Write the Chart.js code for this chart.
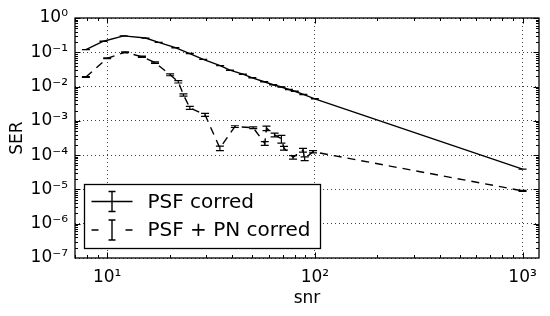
<!DOCTYPE html>
<html>
<head>
<meta charset="utf-8">
<script src="https://cdn.jsdelivr.net/npm/chart.js@4.4.1/dist/chart.umd.min.js"></script>
<style>
  html, body { margin: 0; padding: 0; background: #fff; }
  #wrap { width: 550px; height: 316px; }
</style>
</head>
<body>
<div id="wrap"><canvas id="chart"></canvas></div>
<script>
// series 1: PSF corred
const snrPsf = [7.9, 9.6, 12, 15.3, 17.7, 21.3, 25, 29, 35, 39, 45, 50, 57, 63, 69, 75, 80, 88, 100, 1000];
const serPsf = [0.12, 0.21, 0.30, 0.26, 0.195, 0.136, 0.092, 0.062, 0.041, 0.030, 0.023, 0.018, 0.0138, 0.0113, 0.0097, 0.0082, 0.0073, 0.0059, 0.0044, 3.9e-5];
const errPsf = [0.005, 0.005, 0.005, 0.005, 0.005, 0.005, 0.005, 0.005, 0.005, 0.005, 0.008, 0.008, 0.01, 0.01, 0.01, 0.012, 0.012, 0.012, 0.012, 0.005];

// series 2: PSF + PN corred
const snrPn = [7.9, 10, 12.2, 14.7, 17, 20.1, 22, 23.3, 25, 29.6, 34.9, 41.2, 50.5, 57.4, 58.5, 64, 69, 71, 78.5, 87.7, 89.3, 98, 1000];
const serPn = [0.019, 0.067, 0.10, 0.074, 0.05, 0.022, 0.0138, 0.0057, 0.0024, 0.0015, 1.6e-4, 6.8e-4, 6.3e-4, 2.2e-4, 6.1e-4, 3.9e-4, 3.0e-4, 1.6e-4, 8.7e-5, 1.4e-4, 7.9e-5, 1.26e-4, 9.1e-6];
const errPn = [0.03, 0.03, 0.03, 0.04, 0.05, 0.06, 0.08, 0.08, 0.1, 0.1, 0.15, 0.06, 0.06, 0.12, 0.15, 0.12, 0.25, 0.12, 0.12, 0.12, 0.12, 0.08, 0.03];

const seriesLabels = ['PSF corred', 'PSF + PN corred'];
const xMajor = [10, 100, 1000];
const yMajor = [1, 1e-1, 1e-2, 1e-3, 1e-4, 1e-5, 1e-6, 1e-7];

const FONT = "'DejaVu Sans', sans-serif";
const SUP = {'-': '\u207B', '0': '\u2070', '1': '\u00B9', '2': '\u00B2', '3': '\u00B3',
             '4': '\u2074', '5': '\u2075', '6': '\u2076', '7': '\u2077', '8': '\u2078', '9': '\u2079'};

function powLabel(v) {
    const e = String(Math.round(Math.log10(v)));
    return '10' + e.split('').map(c => SUP[c]).join('');
}

function toPoints(xs, ys) {
    return xs.map((x, i) => ({x: x, y: ys[i]}));
}

// vertical error bars with caps
const errorBars = {
    id: 'errorBars',
    afterDatasetsDraw(chart) {
        const ctx = chart.ctx;
        const xs = chart.scales.x, ys = chart.scales.y;
        chart.data.datasets.forEach(ds => {
            ctx.save();
            ctx.strokeStyle = ds.borderColor;
            ctx.lineWidth = 1.2;
            ds.data.forEach((p, i) => {
                const e = ds.errors[i];
                const px = xs.getPixelForValue(p.x);
                const y1 = ys.getPixelForValue(p.y * (1 + e));
                const y2 = ys.getPixelForValue(p.y * (1 - e));
                ctx.beginPath();
                ctx.moveTo(px, y1); ctx.lineTo(px, y2);
                ctx.moveTo(px - 4, y1); ctx.lineTo(px + 4, y1);
                ctx.moveTo(px - 4, y2); ctx.lineTo(px + 4, y2);
                ctx.stroke();
            });
            ctx.restore();
        });
    }
};

// box around plot with inward ticks on every side
const frameTicks = {
    id: 'frameTicks',
    afterDatasetsDraw(chart) {
        const ctx = chart.ctx;
        const a = chart.chartArea;
        const xs = chart.scales.x, ys = chart.scales.y;
        ctx.save();
        ctx.strokeStyle = '#000';
        ctx.lineWidth = 1;
        ctx.beginPath();
        const mark = (vals, len, horiz) => {
            vals.forEach(v => {
                if (horiz) {
                    const px = Math.round(xs.getPixelForValue(v)) + 0.5;
                    if (px < a.left || px > a.right) return;
                    ctx.moveTo(px, a.bottom); ctx.lineTo(px, a.bottom - len);
                    ctx.moveTo(px, a.top); ctx.lineTo(px, a.top + len);
                } else {
                    const py = Math.round(ys.getPixelForValue(v)) + 0.5;
                    if (py < a.top || py > a.bottom) return;
                    ctx.moveTo(a.left, py); ctx.lineTo(a.left + len, py);
                    ctx.moveTo(a.right, py); ctx.lineTo(a.right - len, py);
                }
            });
        };
        const minors = (lo, hi) => {
            const out = [];
            for (let d = Math.floor(Math.log10(lo)); d <= Math.ceil(Math.log10(hi)); d++) {
                for (let k = 2; k < 10; k++) out.push(k * Math.pow(10, d));
            }
            return out;
        };
        mark(xMajor, 5.5, true);
        mark(minors(xs.min, xs.max), 3, true);
        mark(yMajor, 5.5, false);
        mark(minors(ys.min, ys.max), 3, false);
        ctx.stroke();
        ctx.lineWidth = 1.3;
        ctx.strokeRect(a.left, a.top, a.right - a.left, a.bottom - a.top);
        ctx.restore();
    }
};

// legend box in lower left of the plot
const boxLegend = {
    id: 'boxLegend',
    afterDraw(chart) {
        const ctx = chart.ctx;
        const a = chart.chartArea;
        const bx = a.left + 9.5, by = a.bottom - 73.5, bw = 236, bh = 64;
        ctx.save();
        ctx.fillStyle = '#fff';
        ctx.fillRect(bx, by, bw, bh);
        ctx.strokeStyle = '#000';
        ctx.lineWidth = 1.3;
        ctx.strokeRect(bx, by, bw, bh);
        chart.data.datasets.forEach((ds, i) => {
            const cy = by + 17 + i * 28.5;
            const x0 = bx + 7, x1 = bx + 48, xm = (x0 + x1) / 2;
            ctx.strokeStyle = ds.borderColor;
            ctx.lineWidth = 1.4;
            ctx.beginPath();
            if (ds.borderDash && ds.borderDash.length) {
                ctx.moveTo(x0, cy); ctx.lineTo(x0 + 7, cy);
                ctx.moveTo(x1 - 7, cy); ctx.lineTo(x1, cy);
            } else {
                ctx.moveTo(x0, cy); ctx.lineTo(x1, cy);
            }
            ctx.moveTo(xm, cy - 10); ctx.lineTo(xm, cy + 10);
            ctx.moveTo(xm - 3.5, cy - 10); ctx.lineTo(xm + 3.5, cy - 10);
            ctx.moveTo(xm - 3.5, cy + 10); ctx.lineTo(xm + 3.5, cy + 10);
            ctx.stroke();
            ctx.fillStyle = '#000';
            ctx.font = '20px ' + FONT;
            ctx.textBaseline = 'middle';
            ctx.textAlign = 'left';
            ctx.fillText(ds.label, bx + 63, cy + 1);
        });
        ctx.restore();
    }
};

new Chart(document.getElementById('chart'), {
    type: 'line',
    data: {
        datasets: [
            {
                label: seriesLabels[0],
                data: toPoints(snrPsf, serPsf),
                errors: errPsf,
                borderColor: '#000',
                borderWidth: 1.4,
                borderDash: [],
                pointRadius: 0,
                tension: 0,
                fill: false
            },
            {
                label: seriesLabels[1],
                data: toPoints(snrPn, serPn),
                errors: errPn,
                borderColor: '#000',
                borderWidth: 1.4,
                borderDash: [8, 6],
                pointRadius: 0,
                tension: 0,
                fill: false
            }
        ]
    },
    options: {
        responsive: true,
        maintainAspectRatio: false,
        animation: false,
        layout: { padding: { top: 18, right: 11, left: 0, bottom: 0 } },
        plugins: {
            legend: { display: false },
            tooltip: { enabled: false }
        },
        scales: {
            x: {
                type: 'logarithmic',
                min: 7,
                max: 1200,
                afterBuildTicks: s => { s.ticks = xMajor.map(v => ({value: v, major: true})); },
                afterFit: s => { s.height = 58; },
                grid: { color: 'rgba(0,0,0,0.75)', lineWidth: 1, drawTicks: false },
                border: { display: false, dash: [1, 3] },
                ticks: {
                    color: '#000',
                    font: { family: FONT, size: 17 },
                    padding: 9,
                    maxRotation: 0,
                    autoSkip: false,
                    callback: v => powLabel(v)
                },
                title: {
                    display: true,
                    text: 'snr',
                    color: '#000',
                    font: { family: FONT, size: 17 },
                    padding: { top: 0, bottom: 7 }
                }
            },
            y: {
                type: 'logarithmic',
                min: 1e-7,
                max: 1,
                afterBuildTicks: s => { s.ticks = yMajor.map(v => ({value: v, major: true})); },
                afterFit: s => { s.width = 75; },
                grid: { color: 'rgba(0,0,0,0.75)', lineWidth: 1, drawTicks: false },
                border: { display: false, dash: [1, 3] },
                ticks: {
                    color: '#000',
                    font: { family: FONT, size: 17 },
                    padding: 7,
                    autoSkip: false,
                    callback: v => powLabel(v)
                },
                title: {
                    display: true,
                    text: 'SER',
                    color: '#000',
                    font: { family: FONT, size: 17 },
                    padding: { top: 7, bottom: 0 }
                }
            }
        }
    },
    plugins: [errorBars, frameTicks, boxLegend]
});
</script>
</body>
</html>
